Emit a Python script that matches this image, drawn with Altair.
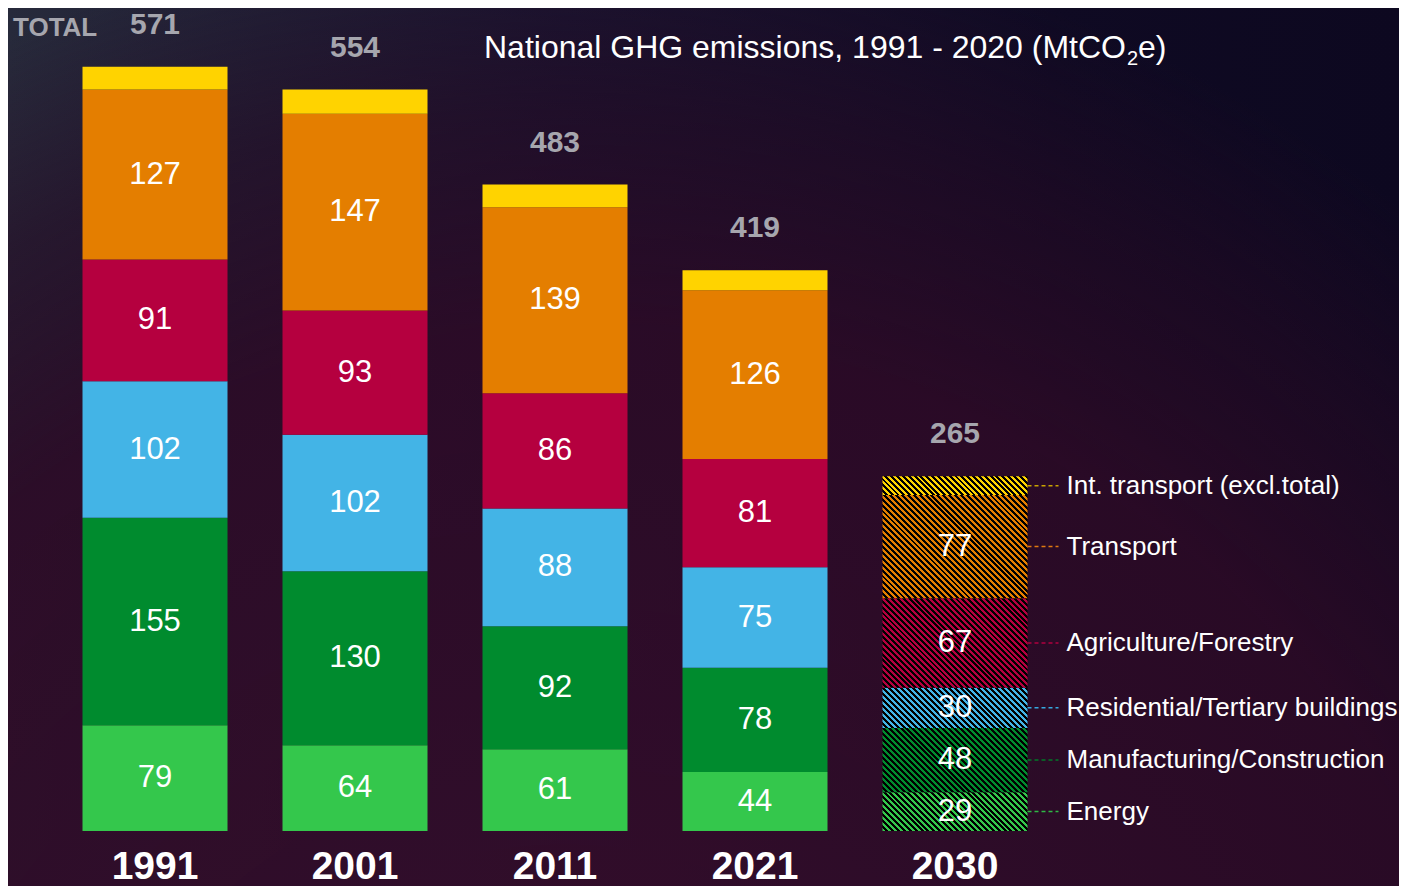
import altair as alt
import pandas as pd

# ---------------- data ----------------
years = ["1991", "2001", "2011", "2021", "2030"]
sectors = [
    "Energy",
    "Manufacturing/Construction",
    "Residential/Tertiary buildings",
    "Agriculture/Forestry",
    "Transport",
    "Int. transport (excl.total)",
]
energy = [79, 64, 61, 44, 29]
manufacturing = [155, 130, 92, 78, 48]
residential = [102, 102, 88, 75, 30]
agriculture = [91, 93, 86, 81, 67]
transport = [127, 147, 139, 126, 77]
int_transport = [17, 18, 17, 15, 14]
totals = [571, 554, 483, 419, 265]
projection_year = "2030"

# ---------------- styles ----------------
bar_colors = ["#34C74C", "#008B2E", "#43B4E6", "#B5003F", "#E47E00", "#FFD300"]
leader_colors = ["#2EB844", "#007A28", "#35A9E0", "#B0003F", "#E07A10", "#C9A300"]
FONT = "Liberation Sans, Arial, sans-serif"
W, H, YMAX = 1000, 803, 600
PAD_L, PAD_T, PAD_R, PAD_B = 47, 20, 344, 55
BANDWIDTH = W / len(years) * (1 - 0.275)

series = [energy, manufacturing, residential, agriculture, transport, int_transport]
rows = []
for i, yr in enumerate(years):
    for j, sec in enumerate(sectors):
        v = series[j][i]
        rows.append({
            "year": yr,
            "sector": sec,
            "order": j,
            "value": v,
            "label": "" if j == 5 else str(v),
        })
df = pd.DataFrame(rows)
df_tot = pd.DataFrame({"year": years, "total": totals})

x = alt.X(
    "year:N",
    sort=years,
    scale=alt.Scale(domain=years, paddingInner=0.275, paddingOuter=0.1375),
    axis=alt.Axis(title=None, labels=False, ticks=False, grid=False,
                  domainColor="#E6E6E6", domainWidth=2),
)
yscale = alt.Scale(domain=[0, YMAX], nice=False, zero=True)

base = (
    alt.Chart(df)
    .transform_stack(stack="value", groupby=["year"],
                     sort=[alt.SortField("order", order="ascending")],
                     as_=["y0", "y1"])
    .transform_calculate(mid="(datum.y0 + datum.y1) / 2")
)

# ---------------- background ----------------
bg_lin = alt.LinearGradient(
    gradient="linear", x1=0, y1=0, x2=1, y2=0,
    stops=[
        alt.GradientStop(offset=0, color="#272a3b"),
        alt.GradientStop(offset=0.4, color="#181430"),
        alt.GradientStop(offset=0.75, color="#0f0a23"),
        alt.GradientStop(offset=1, color="#0d0820"),
    ],
)
bg_rad = alt.RadialGradient(
    gradient="radial", x1=0.4, y1=1.1, r1=0, x2=0.4, y2=1.1, r2=0.98,
    stops=[
        alt.GradientStop(offset=0, color="rgba(54,14,44,0.95)"),
        alt.GradientStop(offset=0.7, color="rgba(44,10,38,0.9)"),
        alt.GradientStop(offset=0.86, color="rgba(38,10,36,0.55)"),
        alt.GradientStop(offset=1, color="rgba(38,10,36,0)"),
    ],
)
full = dict(x=alt.value(-PAD_L), x2=alt.value(W + PAD_R),
            y=alt.value(-PAD_T), y2=alt.value(H + PAD_B))
one = alt.Data(values=[{"k": 1}])
bg1 = alt.Chart(one).mark_rect(color=bg_lin, strokeWidth=0).encode(**full)
bg2 = alt.Chart(one).mark_rect(color=bg_rad, strokeWidth=0).encode(**full)

# ---------------- bars ----------------
bars = base.transform_filter(f"datum.year != '{projection_year}'").mark_bar().encode(
    x=x,
    y=alt.Y("y0:Q", scale=yscale, axis=None),
    y2="y1:Q",
    color=alt.Color("sector:N", scale=alt.Scale(domain=sectors, range=bar_colors), legend=None),
)


def stripes(color, w, h, period=4.2):
    r = h / w
    s = (1 + r) / (1 + r * r)
    L = (w + h) / 2 ** 0.5
    n = max(1, int(round(L / period)))
    eps = 1e-5
    stops = []
    for k in range(n):
        a = k / n
        b = (k + 0.5) / n
        c = (k + 1) / n
        stops += [
            alt.GradientStop(offset=a + (eps if k else 0), color=color),
            alt.GradientStop(offset=b, color=color),
            alt.GradientStop(offset=b + eps, color="#000000"),
            alt.GradientStop(offset=c, color="#000000"),
        ]
    return alt.LinearGradient(gradient="linear", stops=stops,
                              x1=0, y1=1, x2=s, y2=1 - s * r)


pi = years.index(projection_year)
hatch_layers = []
for j, sec in enumerate(sectors):
    h_px = series[j][pi] * H / YMAX
    grad = stripes(bar_colors[j], BANDWIDTH, h_px)
    hatch_layers.append(
        base.transform_filter(f"datum.year == '{projection_year}' && datum.order == {j}")
        .mark_bar(color=grad)
        .encode(x=x, y=alt.Y("y0:Q", scale=yscale, axis=None), y2="y1:Q")
    )

# ---------------- texts ----------------
seg_labels = base.transform_filter("datum.label != ''").mark_text(
    font=FONT, fontSize=31, color="white", baseline="middle", align="center"
).encode(x=x, y=alt.Y("mid:Q", scale=yscale, axis=None), text="label:N")

total_labels = alt.Chart(df_tot).mark_text(
    font=FONT, fontSize=30, fontWeight="bold", color="#A6A6AE",
    baseline="alphabetic", align="center", dy=-33
).encode(x=x, y=alt.Y("total:Q", scale=yscale, axis=None), text="total:Q")

year_labels = alt.Chart(df_tot).mark_text(
    font=FONT, fontSize=39, fontWeight="bold", color="white",
    baseline="alphabetic", align="center"
).encode(x=x, y=alt.value(H + 48), text="year:N")

proj = base.transform_filter(f"datum.year == '{projection_year}'")
leaders = proj.mark_rule(strokeDash=[4, 3], strokeWidth=1.5,
                         xOffset=BANDWIDTH / 2, x2Offset=BANDWIDTH / 2 + 31).encode(
    x=x,
    x2=alt.X2("year:N"),
    y=alt.Y("mid:Q", scale=yscale, axis=None),
    stroke=alt.Stroke("sector:N", scale=alt.Scale(domain=sectors, range=leader_colors), legend=None),
)
legend_text = proj.mark_text(
    font=FONT, fontSize=26, color="white", align="left", baseline="middle",
    dx=BANDWIDTH / 2 + 39
).encode(x=x, y=alt.Y("mid:Q", scale=yscale, axis=None), text="sector:N")

title_main = alt.Chart(alt.Data(values=[{"t": "National GHG emissions, 1991 - 2020 (MtCO"}])).mark_text(
    font=FONT, fontSize=32, color="white", align="right", baseline="alphabetic"
).encode(x=alt.value(1071), y=alt.value(30), text="t:N")
title_sub = alt.Chart(alt.Data(values=[{"t": "2"}])).mark_text(
    font=FONT, fontSize=20, color="white", align="left", baseline="alphabetic"
).encode(x=alt.value(1072), y=alt.value(37), text="t:N")
title_end = alt.Chart(alt.Data(values=[{"t": "e)"}])).mark_text(
    font=FONT, fontSize=32, color="white", align="left", baseline="alphabetic"
).encode(x=alt.value(1083), y=alt.value(30), text="t:N")
total_word = alt.Chart(alt.Data(values=[{"t": "TOTAL"}])).mark_text(
    font=FONT, fontSize=26, fontWeight="bold", color="#A6A6AE", align="left", baseline="alphabetic"
).encode(x=alt.value(-42), y=alt.value(8), text="t:N")

chart = alt.layer(
    bg1, bg2, bars, *hatch_layers, seg_labels, total_labels, year_labels,
    leaders, legend_text, title_main, title_sub, title_end, total_word,
).properties(
    width=W, height=H,
    autosize=alt.AutoSizeParams(type="none"),
    padding={"left": PAD_L, "top": PAD_T, "right": PAD_R, "bottom": PAD_B},
    background="#1a1430",
).configure_view(strokeWidth=0)

chart.save("out.html", embed_options={"renderer": "svg", "actions": False})
